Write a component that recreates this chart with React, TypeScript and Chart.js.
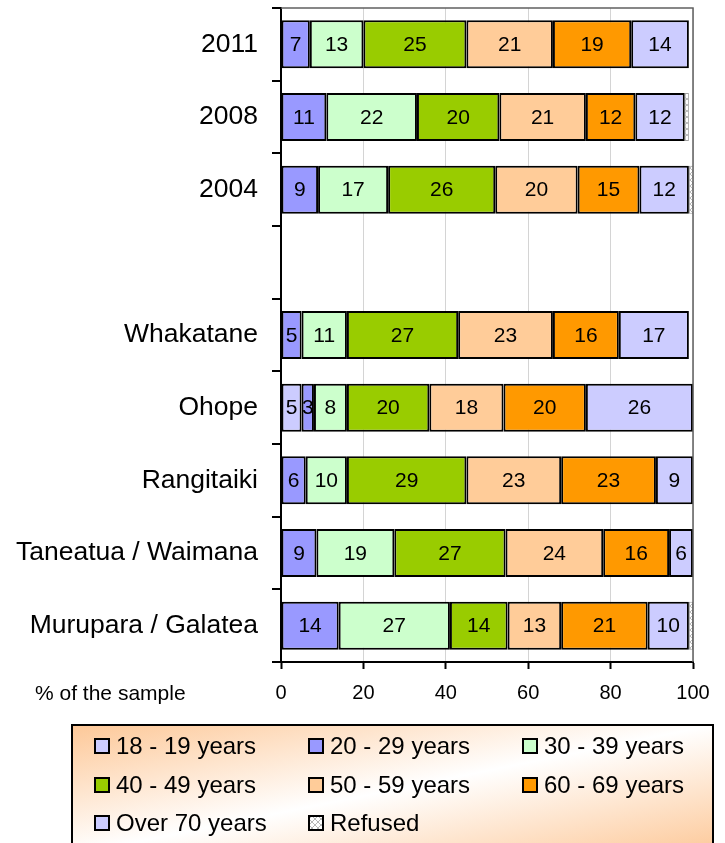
import { useEffect, useRef } from 'react';
import { Chart, registerables } from 'chart.js';

Chart.register(...registerables);

const FONT = '"Liberation Sans", Arial, Helvetica, sans-serif';

const categories = ['2011', '2008', '2004', '', 'Whakatane', 'Ohope', 'Rangitaiki', 'Taneatua / Waimana', 'Murupara / Galatea'];
const xTicks = [0, 20, 40, 60, 80, 100];

const age1819 = [0, 0, 0, null, 0, 5, 0, 0, 0];
const age2029 = [7, 11, 9, null, 5, 3, 6, 8.6, 14];
const age3039 = [13, 22, 17, null, 11, 8, 10, 18.9, 27];
const age4049 = [25, 20, 26, null, 27, 20, 29, 27, 14];
const age5059 = [21, 21, 20, null, 23, 18, 23, 23.7, 13];
const age6069 = [19, 12, 15, null, 16, 20, 23, 16, 21];
const over70 = [14, 12, 12, null, 17, 26, 9, 5.8, 10];
const refused = [0, 1, 2, null, 0, 0, 0, 0, 1];

const seriesNames = ['18 - 19 years', '20 - 29 years', '30 - 39 years', '40 - 49 years', '50 - 59 years', '60 - 69 years', 'Over 70 years', 'Refused'];
const seriesColors = ['#CCCCFF', '#9999FF', '#CCFFCC', '#99CC00', '#FFCC99', '#FF9900', '#CCCCFF', 'PATTERN'];
const seriesData = [age1819, age2029, age3039, age4049, age5059, age6069, over70, refused];

export default function App() {
  const ref = useRef<HTMLCanvasElement | null>(null);

  useEffect(() => {
    document.body.style.margin = '0';
    const canvas = ref.current!;
    const pc = document.createElement('canvas');
    pc.width = 6;
    pc.height = 6;
    const p = pc.getContext('2d')!;
    p.fillStyle = '#ffffff';
    p.fillRect(0, 0, 6, 6);
    p.strokeStyle = '#b8b8b8';
    p.lineWidth = 1;
    p.beginPath();
    p.moveTo(0, 6); p.lineTo(6, 0);
    p.moveTo(-1, 1); p.lineTo(1, -1);
    p.moveTo(5, 7); p.lineTo(7, 5);
    p.moveTo(0, 0); p.lineTo(6, 6);
    p.stroke();
    const pattern = canvas.getContext('2d')!.createPattern(pc, 'repeat')!;
    const fillOf = (c: string) => (c === 'PATTERN' ? pattern : c);

    const labelsPlugin = {
      id: 'segLabels',
      afterDatasetsDraw(chart: any) {
        const ctx = chart.ctx;
        ctx.save();
        ctx.font = `21px ${FONT}`;
        ctx.fillStyle = '#000';
        ctx.textAlign = 'center';
        ctx.textBaseline = 'middle';
        chart.data.datasets.forEach((ds: any, i: number) => {
          if (ds.label === 'Refused') return;
          const meta = chart.getDatasetMeta(i);
          meta.data.forEach((el: any, j: number) => {
            const v = ds.data[j];
            if (!v) return;
            const { x, y, base } = el.getProps(['x', 'y', 'base'], true);
            ctx.fillText(String(Math.round(v)), (x + base) / 2, y + 1);
          });
        });
        ctx.restore();
      },
    };

    const decorPlugin = {
      id: 'decor',
      afterDraw(chart: any) {
        const ctx = chart.ctx;
        const a = chart.chartArea;
        ctx.save();
        ctx.strokeStyle = '#606060';
        ctx.lineWidth = 1.5;
        ctx.beginPath();
        ctx.moveTo(a.left, a.top);
        ctx.lineTo(a.right, a.top);
        ctx.lineTo(a.right, a.bottom);
        ctx.stroke();

        ctx.font = `21px ${FONT}`;
        ctx.fillStyle = '#000';
        ctx.textAlign = 'left';
        ctx.textBaseline = 'middle';
        ctx.fillText('% of the sample', 35, 694);

        const bx = 72, by = 725, bw = 641, bh = 130;
        ctx.save();
        ctx.translate(bx, by);
        ctx.scale(bw, bh);
        const g = ctx.createLinearGradient(0, 0, 1, 1);
        g.addColorStop(0, '#FDC898');
        g.addColorStop(0.5, '#FFFFFF');
        g.addColorStop(1, '#FDC898');
        ctx.fillStyle = g;
        ctx.fillRect(0, 0, 1, 1);
        ctx.restore();
        ctx.strokeStyle = '#000';
        ctx.lineWidth = 2;
        ctx.strokeRect(bx, by, bw, bh);

        const colX = [95, 309, 523];
        const rowY = [746, 785, 823];
        ctx.font = `24px ${FONT}`;
        ctx.textBaseline = 'middle';
        ctx.textAlign = 'left';
        seriesNames.forEach((name, i) => {
          const x = colX[i % 3];
          const y = rowY[Math.floor(i / 3)];
          ctx.fillStyle = fillOf(seriesColors[i]);
          ctx.fillRect(x, y - 7, 14, 14);
          ctx.strokeStyle = '#000';
          ctx.lineWidth = 2;
          ctx.strokeRect(x, y - 7, 14, 14);
          ctx.fillStyle = '#000';
          ctx.fillText(name, x + 21, y + 1);
        });
        ctx.restore();
      },
    };

    const chart = new Chart(canvas, {
      type: 'bar',
      data: {
        labels: categories,
        datasets: seriesNames.map((name, i) => ({
          label: name,
          data: seriesData[i] as any,
          backgroundColor: fillOf(seriesColors[i]) as any,
          borderColor: name === 'Refused' ? '#A0A0A0' : '#000',
          borderWidth: name === 'Refused' ? 1 : 2,
          borderSkipped: false,
          barPercentage: 1,
          categoryPercentage: 0.66,
        })),
      },
      options: {
        indexAxis: 'y',
        responsive: false,
        devicePixelRatio: 1,
        animation: false,
        layout: { padding: { left: 0, right: 32, top: 8, bottom: 131 } },
        plugins: {
          legend: { display: false },
          tooltip: { enabled: false },
        },
        scales: {
          x: {
            stacked: true,
            min: 0,
            max: 100,
            afterBuildTicks(scale: any) {
              scale.ticks = xTicks.map((v) => ({ value: v }));
            },
            afterFit(scale: any) {
              scale.height = 50;
            },
            grid: {
              color: '#D4D4D4',
              lineWidth: 1,
              tickColor: '#000',
              tickLength: 7,
              tickWidth: 2,
            },
            border: { color: '#000', width: 2 },
            ticks: {
              color: '#000',
              font: { family: FONT, size: 20 },
              padding: 12,
              maxRotation: 0,
            },
          },
          y: {
            stacked: true,
            afterFit(scale: any) {
              scale.width = 281;
              scale.paddingTop = 0;
              scale.paddingBottom = 0;
            },
            grid: {
              offset: true,
              drawOnChartArea: false,
              color: '#000',
              tickLength: 9,
              lineWidth: 2,
            },
            border: { color: '#000', width: 2 },
            ticks: {
              color: '#000',
              font: { family: FONT, size: 26.5 },
              padding: 14,
              autoSkip: false,
            },
          },
        },
      },
      plugins: [labelsPlugin, decorPlugin],
    });

    return () => chart.destroy();
  }, []);

  return (
    <div style={{ position: 'absolute', left: 0, top: 0, width: 725, height: 843 }}>
      <canvas ref={ref} width={725} height={843} style={{ display: 'block', width: 725, height: 843 }} />
    </div>
  );
}
